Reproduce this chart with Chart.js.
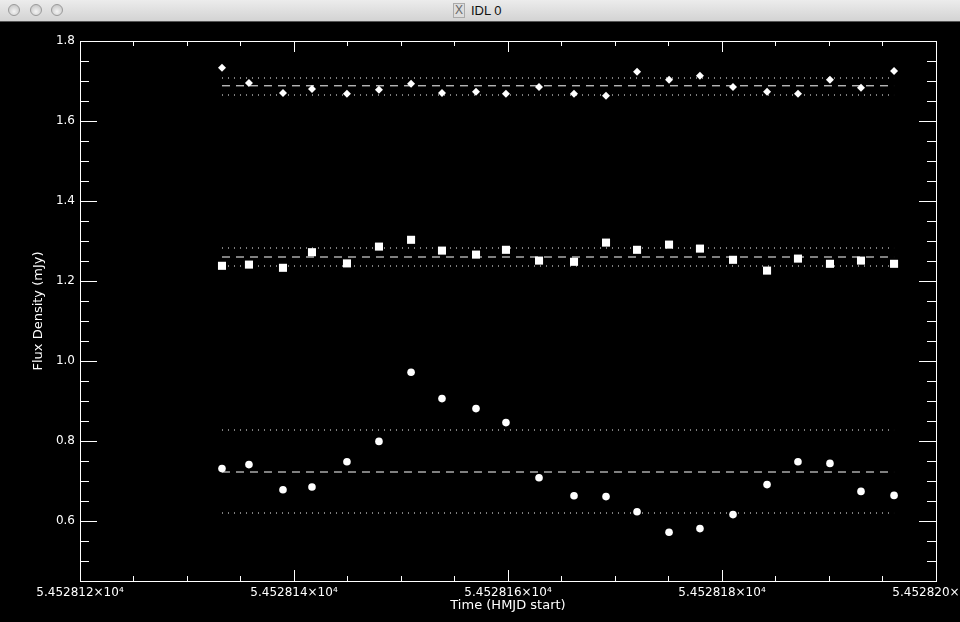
<!DOCTYPE html>
<html>
<head>
<meta charset="utf-8">
<script src="https://cdn.jsdelivr.net/npm/chart.js@4.4.0/dist/chart.umd.min.js"></script>
<style>
  html, body { margin: 0; padding: 0; background: #000; }
  body { width: 960px; height: 622px; overflow: hidden; font-family: "DejaVu Sans", sans-serif; }
  .titlebar {
    position: relative; height: 21px; border-bottom: 1px solid #555;
    background: linear-gradient(#ececec, #d3d3d3);
  }
  .btn {
    position: absolute; top: 4px; width: 12px; height: 12px; border-radius: 50%;
    background: radial-gradient(circle at 50% 65%, #f4f4f4, #bdbdbd);
    border: 1px solid #9a9a9a; box-sizing: border-box;
  }
  .wtitle {
    position: absolute; left: 453px; top: 3px; font-size: 13px; color: #111;
    font-family: "Liberation Sans", sans-serif;
  }
  .xicon {
    display: inline-block; width: 10px; height: 13px; line-height: 13px; font-size: 12px;
    text-align: center; color: #666; background: #ddd; border: 1px solid #aaa;
    margin-right: 6px; vertical-align: top;
  }
  #wrap { position: relative; width: 960px; height: 600px; }
</style>
</head>
<body>
<div class="titlebar">
  <div class="btn" style="left:8px"></div>
  <div class="btn" style="left:30px"></div>
  <div class="btn" style="left:51px"></div>
  <div class="wtitle"><span class="xicon">X</span>IDL 0</div>
</div>
<div id="wrap"><canvas id="c" width="960" height="600"></canvas></div>
<script>
// observation times (HMJD start)
const times = [
  54528.13327, 54528.13579, 54528.13897, 54528.14168, 54528.14495, 54528.14794,
  54528.15094, 54528.15383, 54528.15701, 54528.15981, 54528.16290, 54528.16617,
  54528.16916, 54528.17206, 54528.17505, 54528.17794, 54528.18103, 54528.18421,
  54528.18710, 54528.19009, 54528.19299, 54528.19608
];
// flux densities (mJy)
const fluxDiamond = [
  1.733, 1.695, 1.670, 1.680, 1.668, 1.678, 1.693, 1.670, 1.673, 1.668, 1.685,
  1.668, 1.663, 1.723, 1.703, 1.713, 1.685, 1.673, 1.668, 1.703, 1.683, 1.725
];
const fluxSquare = [
  1.238, 1.241, 1.233, 1.272, 1.244, 1.286, 1.303, 1.276, 1.266, 1.278, 1.251,
  1.248, 1.296, 1.278, 1.291, 1.281, 1.253, 1.226, 1.256, 1.243, 1.251, 1.243
];
const fluxCircle = [
  0.731, 0.741, 0.678, 0.685, 0.748, 0.799, 0.972, 0.906, 0.881, 0.846, 0.708,
  0.663, 0.661, 0.623, 0.572, 0.581, 0.616, 0.691, 0.748, 0.744, 0.674, 0.664
];
// mean and +/- sigma levels: [upper, mean, lower]
const levelsDiamond = [1.7075, 1.688, 1.665];
const levelsSquare = [1.2825, 1.260, 1.2375];
const levelsCircle = [0.8275, 0.7225, 0.620];

// axes
const xRange = [54528.12, 54528.20];
const yRange = [0.45, 1.8];
const xTicks = [54528.12, 54528.14, 54528.16, 54528.18, 54528.20];
const yTicks = [0.6, 0.8, 1.0, 1.2, 1.4, 1.6, 1.8];
const xMinorStep = 0.005;
const yMinorStep = 0.05;

const pts = ys => times.map((t, i) => ({ x: t, y: ys[i] }));
const span = v => [{ x: times[0], y: v }, { x: times[times.length - 1], y: v }];

const datasets = [];
[[fluxDiamond, 'rectRot', 4], [fluxSquare, 'rect', 5.7], [fluxCircle, 'circle', 3.8]].forEach(([ys, style, r]) => {
  datasets.push({
    data: pts(ys), showLine: false, pointStyle: style, pointRadius: r,
    backgroundColor: '#fff', borderColor: '#fff', borderWidth: 0
  });
});
[levelsDiamond, levelsSquare, levelsCircle].forEach(lv => {
  lv.forEach((v, i) => {
    datasets.push({
      data: span(v), showLine: true, pointRadius: 0, borderColor: '#fff', borderWidth: 1,
      borderDash: i === 1 ? [8, 6] : [1, 5]
    });
  });
});

// frame and inward ticks, IDL style
const framePlugin = {
  id: 'frame',
  afterDraw(chart) {
    const { ctx, chartArea: a, scales: { x, y } } = chart;
    ctx.save();
    ctx.strokeStyle = '#fff';
    ctx.lineWidth = 1;
    ctx.strokeRect(a.left + 0.5, a.top + 0.5, a.right - a.left, a.bottom - a.top);
    ctx.beginPath();
    const eps = 1e-9;
    for (let v = xRange[0]; v <= xRange[1] + eps; v += xMinorStep) {
      const major = xTicks.some(t => Math.abs(t - v) < 1e-6);
      const len = major ? 11 : 5;
      const px = Math.round(x.getPixelForValue(v)) + 0.5;
      ctx.moveTo(px, a.bottom); ctx.lineTo(px, a.bottom - len);
      ctx.moveTo(px, a.top); ctx.lineTo(px, a.top + len);
    }
    for (let v = 0.5; v <= yRange[1] + eps; v += yMinorStep) {
      const major = yTicks.some(t => Math.abs(t - v) < 1e-6);
      const len = major ? 17 : 9;
      const py = Math.round(y.getPixelForValue(v)) + 0.5;
      ctx.moveTo(a.left, py); ctx.lineTo(a.left + len, py);
      ctx.moveTo(a.right, py); ctx.lineTo(a.right - len, py);
    }
    ctx.stroke();
    ctx.restore();
  }
};

const tickFont = { family: '"DejaVu Sans", sans-serif', size: 12 };
const titleFont = { family: '"DejaVu Sans", sans-serif', size: 13 };

new Chart(document.getElementById('c'), {
  type: 'scatter',
  data: { datasets },
  plugins: [framePlugin],
  options: {
    responsive: false,
    animation: false,
    layout: { padding: { top: 19, right: 24, left: 0, bottom: 0 } },
    plugins: { legend: { display: false }, tooltip: { enabled: false } },
    scales: {
      x: {
        type: 'linear', min: xRange[0], max: xRange[1],
        grid: { display: false, drawTicks: false },
        border: { display: false },
        afterBuildTicks: s => { s.ticks = xTicks.map(v => ({ value: v })); },
        afterFit: s => { s.height = 41; s.paddingLeft = 0; s.paddingRight = 0; },
        ticks: {
          color: '#fff', font: tickFont, padding: 5, maxRotation: 0, autoSkip: false,
          callback: v => (v / 1e4).toFixed(6) + '×10⁴'
        },
        title: {
          display: true, text: 'Time (HMJD start)', color: '#fff', font: titleFont,
          padding: { top: 0, bottom: 9 }
        }
      },
      y: {
        type: 'linear', min: yRange[0], max: yRange[1],
        grid: { display: false, drawTicks: false },
        border: { display: false },
        afterBuildTicks: s => { s.ticks = yTicks.map(v => ({ value: v })); },
        afterFit: s => { s.width = 80; },
        ticks: { color: '#fff', font: tickFont, padding: 5, callback: v => v.toFixed(1) },
        title: {
          display: true, text: 'Flux Density (mJy)', color: '#fff', font: titleFont,
          padding: { top: 31, bottom: 0 }
        }
      }
    }
  }
});
</script>
</body>
</html>
